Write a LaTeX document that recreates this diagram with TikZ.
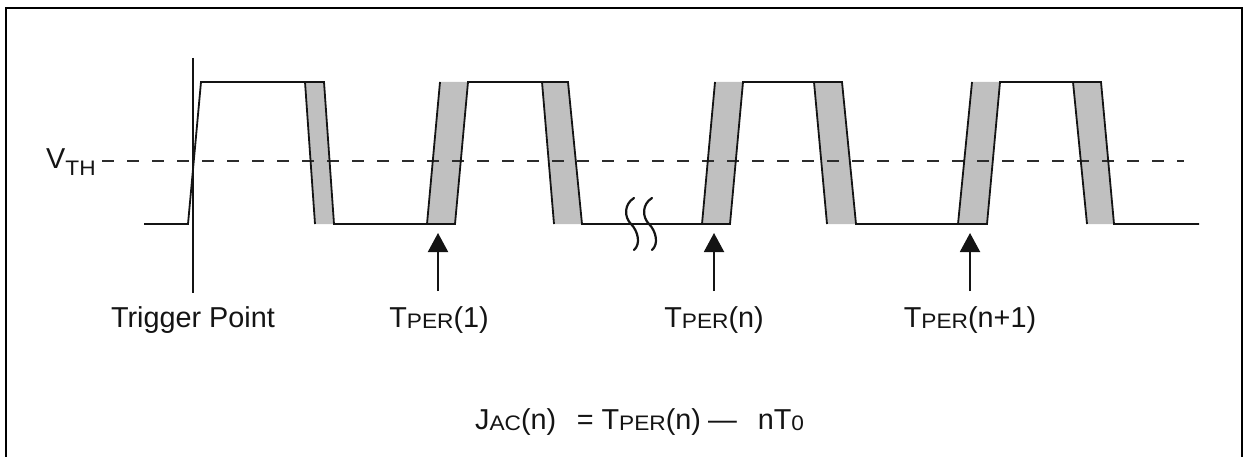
\documentclass[tikz,border=0pt]{standalone}
\usepackage{fontspec}
\usepackage{graphicx}
\setmainfont{Liberation Sans}
\usetikzlibrary{arrows.meta}
\definecolor{bandgray}{RGB}{192,192,192}
\definecolor{inkblack}{RGB}{20,20,20}
\newcommand{\subtx}[2][-1.5pt]{\raisebox{#1}{\fontsize{21}{21}\selectfont\scalebox{1.08}[1]{#2}}}
\tikzset{
  wave/.style={line width=1.8pt, draw=inkblack, line join=miter},
  band/.style={fill=bandgray, draw=none},
  thresh/.style={line width=2pt, draw=inkblack!90, dash pattern=on 12pt off 13pt},
  label/.style={inner sep=0pt, anchor=base, font=\fontsize{28.8}{30}\selectfont, text=inkblack},
  uparrow/.style={line width=2pt, draw=inkblack, -{Triangle[width=20pt,length=19pt]}},
  frame/.style={line width=2.5pt, draw=black},
  brk/.style={line width=2.2pt, draw=inkblack, line cap=round}
}
\begin{document}
\begin{tikzpicture}[x=1pt,y=-1pt]
\useasboundingbox (0,0) rectangle (1246,457);
% frame
\draw[frame] (6,470) -- (6,8) -- (1242,8) -- (1242,470);
% gray bands
\fill[band] (305,82) -- (324,82) -- (334,224) -- (315,224) -- cycle;
\fill[band] (427,224) -- (455,224) -- (468,82) -- (440,82) -- cycle;
\fill[band] (542,82) -- (568,82) -- (582,224) -- (554,224) -- cycle;
\fill[band] (702,224) -- (730,224) -- (743,82) -- (715,82) -- cycle;
\fill[band] (814,82) -- (842,82) -- (856,224) -- (827,224) -- cycle;
\fill[band] (958,224) -- (987,224) -- (1000,82) -- (972,82) -- cycle;
\fill[band] (1073,82) -- (1101,82) -- (1114,224) -- (1087,224) -- cycle;
% threshold line
\coordinate (vthL) at (102,161);
\coordinate (vthR) at (1184,161);
\draw[thresh] (vthL) -- (vthR);
% waveform outline
\draw[wave] (144,224) -- (188,224) -- (201,82) -- (324,82) -- (334,224) -- (455,224) -- (468,82) -- (568,82) -- (582,224) -- (730,224) -- (743,82) -- (842,82) -- (856,224) -- (987,224) -- (1000,82) -- (1101,82) -- (1114,224) -- (1199,224);
% inner band edges
\draw[wave] (305,82) -- (315,224);
\draw[wave] (440,82) -- (427,224);
\draw[wave] (542,82) -- (554,224);
\draw[wave] (715,82) -- (702,224);
\draw[wave] (814,82) -- (827,224);
\draw[wave] (972,82) -- (958,224);
\draw[wave] (1073,82) -- (1087,224);
% time break
\draw[brk] (634,198) .. controls (624,204) and (624,217) .. (631,224) .. controls (638,231) and (641,244) .. (634,250);
\draw[brk] (652,198) .. controls (642,204) and (642,217) .. (649,224) .. controls (656,231) and (659,244) .. (652,250);
% trigger line
\coordinate (trigTop) at (193,58);
\coordinate (trigBot) at (193,293);
\draw[line width=2.2pt, draw=inkblack] (trigTop) -- (trigBot);
% arrows
\coordinate (a1s) at (438,291); \coordinate (a1e) at (438,233);
\coordinate (a2s) at (714,291); \coordinate (a2e) at (714,233);
\coordinate (a3s) at (970,291); \coordinate (a3e) at (970,233);
\draw[uparrow] (a1s) -- (a1e);
\draw[uparrow] (a2s) -- (a2e);
\draw[uparrow] (a3s) -- (a3e);
% labels
\node[label, anchor=base west] (vth) at (46,168) {V\subtx[-7pt]{TH}};
\node[label] (trig) at (193,327) {Trigger Point};
\node[label] (tp1) at (439,327) {T\subtx{PER}(1)};
\node[label] (tpn) at (714,327) {T\subtx{PER}(n)};
\node[label] (tpn1) at (970,327) {T\subtx{PER}(n+1)};
\node[label, anchor=base west] (eq) at (475,429) {J\subtx{AC}(n)\hspace{20.5pt}=\hspace{8pt}T\subtx{PER}(n)\hspace{7pt}—\hspace{21pt}nT\subtx{0}};
\end{tikzpicture}
\end{document}
